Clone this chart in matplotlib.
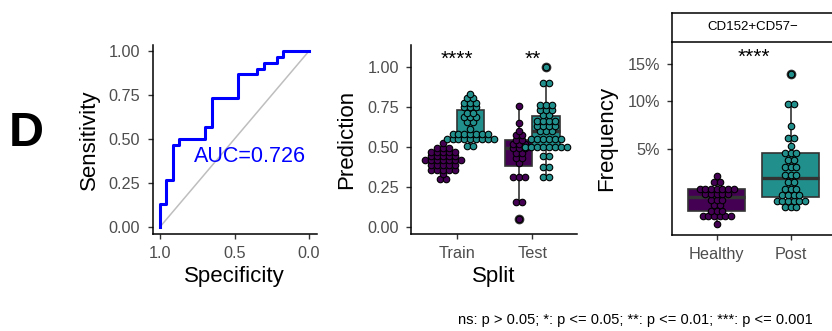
import numpy as np
import matplotlib
matplotlib.use("Agg")
import matplotlib.pyplot as plt
from matplotlib import cbook

plt.rcParams['font.family'] = ['Liberation Sans', 'DejaVu Sans']

PURPLE = '#440154'
TEAL = '#21908C'
BOXLINE = '#333333'
TICKTXT = '#4D4D4D'

# ROC curve, (specificity, sensitivity) corners of the step path
roc_spec = [1.0, 1.0, 0.96, 0.96, 0.915, 0.915, 0.875, 0.875, 0.70, 0.70, 0.653, 0.653,
            0.474, 0.474, 0.347, 0.347, 0.302, 0.302, 0.217, 0.217, 0.177, 0.177, 0.0]
roc_sens = [0.0, 0.133, 0.133, 0.267, 0.267, 0.467, 0.467, 0.5, 0.5, 0.567, 0.567, 0.733,
            0.733, 0.867, 0.867, 0.9, 0.9, 0.933, 0.933, 0.967, 0.967, 1.0, 1.0]
auc_value = 0.726

# model predictions by split and class
splits = ['Train', 'Test']
train_neg = [0.521,
             0.494, 0.494, 0.494,
             0.469, 0.469, 0.469, 0.469, 0.469,
             0.442, 0.442, 0.442, 0.442, 0.442,
             0.417, 0.417, 0.417, 0.417, 0.417, 0.417, 0.417,
             0.386, 0.386, 0.386, 0.386, 0.386,
             0.354, 0.354, 0.354, 0.354, 0.354,
             0.327,
             0.298, 0.298]
train_pos = [0.829,
             0.802, 0.802,
             0.775, 0.775, 0.775,
             0.750, 0.750, 0.750,
             0.709, 0.709,
             0.684, 0.684, 0.684,
             0.656, 0.656,
             0.609,
             0.579, 0.579, 0.579, 0.579, 0.579, 0.579, 0.579,
             0.546, 0.546, 0.546, 0.546, 0.546, 0.546, 0.546, 0.546, 0.546,
             0.504, 0.504]
test_neg = [0.756, 0.646, 0.600,
            0.573, 0.573,
            0.542, 0.542,
            0.517, 0.517, 0.517,
            0.490, 0.490, 0.490,
            0.458, 0.458,
            0.427, 0.427,
            0.400,
            0.309, 0.309, 0.309,
            0.156, 0.156,
            0.046]
test_pos = [1.0,
            0.90, 0.90,
            0.76, 0.76, 0.76,
            0.73, 0.73, 0.73,
            0.70, 0.70,
            0.66, 0.66, 0.66, 0.66,
            0.63, 0.63, 0.63, 0.63,
            0.60, 0.60, 0.60,
            0.55, 0.55, 0.55, 0.55, 0.55, 0.55,
            0.50, 0.50, 0.50, 0.50, 0.50, 0.50, 0.50, 0.50,
            0.44, 0.44,
            0.375, 0.375,
            0.31, 0.31]
split_stars = ['****', '**']

# CD152+CD57- frequency (%)
groups = ['Healthy', 'Post']
healthy = [2.97,
           2.58, 2.58,
           2.15, 2.15, 2.15, 2.15, 2.15, 2.15, 2.15,
           1.86, 1.86, 1.86, 1.86, 1.86,
           1.57, 1.57, 1.57,
           1.34, 1.34,
           1.10, 1.10, 1.10,
           0.895, 0.895, 0.895, 0.895, 0.895, 0.895,
           0.63]
post = [13.56,
        9.63, 9.63,
        7.18,
        5.97, 5.97,
        5.29,
        4.69, 4.69, 4.69,
        4.10, 4.10,
        3.59, 3.59, 3.59,
        3.01, 3.01, 3.01,
        2.58, 2.58,
        2.13, 2.13, 2.13,
        1.82, 1.82, 1.82, 1.82,
        1.53, 1.53, 1.53, 1.53, 1.53, 1.53,
        1.24, 1.24, 1.24]
freq_ticks = [5, 10, 15]
freq_stars = '****'
caption = 'ns: p > 0.05; *: p <= 0.05; **: p <= 0.01; ***: p <= 0.001'

W, H = 832, 331
fig = plt.figure(figsize=(W / 100, H / 100), dpi=100)


def px_axes(left, top, right, bottom):
    return fig.add_axes([left / W, 1 - bottom / H, (right - left) / W, (bottom - top) / H])


def classic(ax):
    for s in ['top', 'right']:
        ax.spines[s].set_visible(False)
    for s in ['left', 'bottom']:
        ax.spines[s].set_linewidth(1.1)
    ax.tick_params(length=3.5, width=1.0, color=BOXLINE, labelsize=11.7, labelcolor=TICKTXT)
    ax.tick_params(axis='y', pad=5.5)
    ax.tick_params(axis='x', pad=5)


def dots(ax, x0, values, step, color):
    xs, ys = [], []
    for v in sorted(set(values)):
        n = values.count(v)
        for i in range(n):
            xs.append(x0 + (i - (n - 1) / 2) * step)
            ys.append(v)
    ax.scatter(xs, ys, s=22, facecolor=color, edgecolor='black', linewidth=0.8, zorder=3)


def style_boxes(res, colors):
    for patch, c in zip(res['boxes'], colors):
        patch.set_facecolor(c)
        patch.set_edgecolor(BOXLINE)
        patch.set_linewidth(1.2)


box_kw = dict(patch_artist=True, showcaps=False,
              flierprops=dict(marker='o', markerfacecolor=BOXLINE, markeredgecolor=BOXLINE,
                              markersize=6),
              medianprops=dict(color=BOXLINE, linewidth=2.4),
              whiskerprops=dict(color=BOXLINE, linewidth=1.2))

# ---- ROC ----
ax1 = px_axes(152.5, 44.8, 316.5, 234)
classic(ax1)
ax1.plot([1, 0], [0, 1], color='#BEBEBE', linewidth=1.1, zorder=1)
ax1.plot(roc_spec, roc_sens, color='blue', linewidth=2.2, zorder=2)
ax1.text(0.396, 0.40, f'AUC={auc_value}', color='blue', fontsize=15.5, ha='center', va='center')
ax1.set_xlim(1.05, -0.05)
ax1.set_ylim(-0.04, 1.035)
ax1.set_xticks([1.0, 0.5, 0.0], ['1.0', '0.5', '0.0'])
ax1.set_yticks([0, 0.25, 0.5, 0.75, 1.0], ['0.00', '0.25', '0.50', '0.75', '1.00'])
ax1.set_xlabel('Specificity', fontsize=16, va='center')
ax1.set_ylabel('Sensitivity', fontsize=16, va='center')
ax1.xaxis.set_label_coords(0.5, -(276.5 - 234) / 189.2)
ax1.yaxis.set_label_coords((89 - 152.5) / 164, 0.5)

# ---- Prediction by split ----
off, bw, step = 0.18, 0.36, 0.078
ax2 = px_axes(411.3, 45, 576.9, 234)
classic(ax2)
res = ax2.boxplot([train_neg, train_pos, test_neg, test_pos],
                  positions=[1 - off, 1 + off, 2 - off, 2 + off], widths=bw,
                  manage_ticks=False, **box_kw)
style_boxes(res, [PURPLE, TEAL, PURPLE, TEAL])
for i, (neg, pos) in enumerate([(train_neg, train_pos), (test_neg, test_pos)]):
    dots(ax2, i + 1 - off, neg, step, PURPLE)
    dots(ax2, i + 1 + off, pos, step, TEAL)
    ax2.text(i + 1, 1.01, split_stars[i], fontsize=15, ha='center', va='baseline')
ax2.set_xlim(0.4, 2.59)
ax2.set_ylim(-0.046, 1.136)
ax2.set_xticks([1, 2], splits)
ax2.set_yticks([0, 0.25, 0.5, 0.75, 1.0], ['0.00', '0.25', '0.50', '0.75', '1.00'])
ax2.set_xlabel('Split', fontsize=16, va='center')
ax2.set_ylabel('Prediction', fontsize=16, va='center')
ax2.xaxis.set_label_coords(0.5, -(276.5 - 234) / 189)
ax2.yaxis.set_label_coords((347 - 411.3) / 165.6, 0.5)

# ---- Frequency, sqrt scale ----
ax3 = px_axes(672.3, 41.7, 835.1, 235)
classic(ax3)
ax3.set_yscale('function', functions=(lambda v: np.sqrt(np.clip(v, 0, None)), lambda v: v ** 2))
stats = []
for vals in [healthy, post]:
    st = cbook.boxplot_stats(np.sqrt(vals))[0]
    for k in ['med', 'q1', 'q3', 'whislo', 'whishi', 'fliers']:
        st[k] = np.asarray(st[k]) ** 2
    stats.append(st)
res = ax3.bxp(stats, positions=[1, 2], widths=0.77, manage_ticks=False, **box_kw)
style_boxes(res, [PURPLE, TEAL])
dots(ax3, 1, healthy, 0.076, PURPLE)
dots(ax3, 2, post, 0.076, TEAL)
ax3.text(1.5, 15.2, freq_stars, fontsize=15, ha='center', va='baseline')
ax3.set_xlim(0.4, 2.6)
ax3.set_ylim(0.336, 18.53)
ax3.set_xticks([1, 2], groups)
ax3.set_yticks(freq_ticks, [f'{t}%' for t in freq_ticks])
ax3.yaxis.set_minor_locator(matplotlib.ticker.NullLocator())
ax3.set_ylabel('Frequency', fontsize=16, va='center')
ax3.yaxis.set_label_coords((607 - 672.3) / 162.8, 0.5)

# facet strip
strip = px_axes(672.3, 12.7, 835.1, 41.7)
strip.set_xticks([])
strip.set_yticks([])
for s in strip.spines.values():
    s.set_linewidth(1.1)
strip.text((753 - 672.3) / 162.8, 0.5, 'CD152+CD57\u2212', fontsize=9.5,
           ha='center', va='center', transform=strip.transAxes)

fig.text(26 / W, 1 - 133 / H, 'D', fontsize=35, fontweight='bold', ha='center', va='center')
fig.text(813 / W, 1 - 320 / H, caption, fontsize=10.5, ha='right', va='center')

fig.savefig('out.png', dpi=100)
